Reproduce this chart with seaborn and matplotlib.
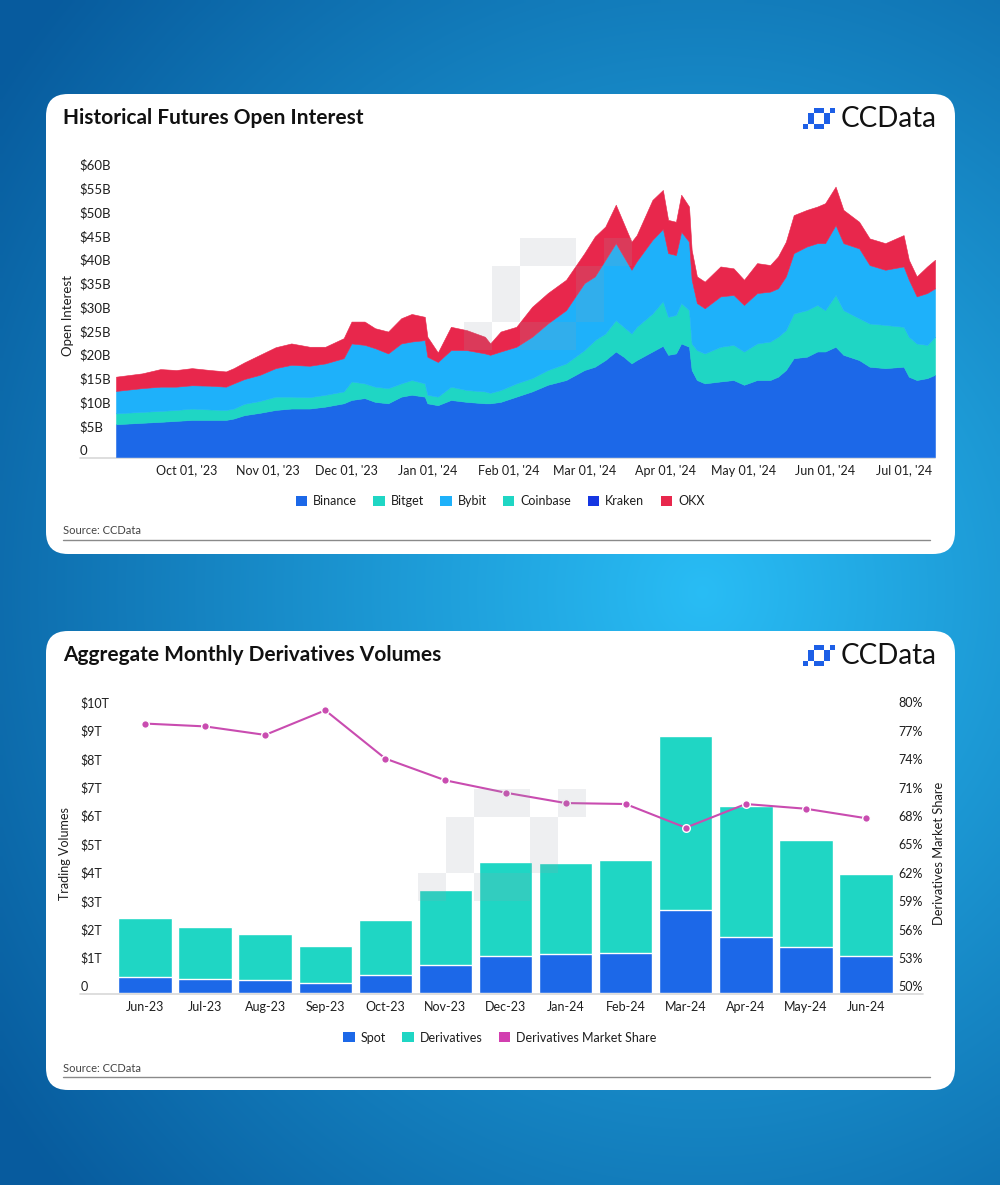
import numpy as np
import pandas as pd
import matplotlib
matplotlib.use("Agg")
import matplotlib.pyplot as plt
import matplotlib.dates as mdates
from matplotlib.patches import FancyBboxPatch, Rectangle, Patch
import seaborn as sns

# ---- top chart: futures open interest, $B per exchange
oi_dates = ["2023-09-04", "2023-09-14", "2023-09-21", "2023-09-27", "2023-10-03", "2023-10-10",
            "2023-10-16", "2023-10-19", "2023-10-23", "2023-10-29", "2023-11-04", "2023-11-10",
            "2023-11-17", "2023-11-23", "2023-11-30", "2023-12-03", "2023-12-08", "2023-12-12",
            "2023-12-17", "2023-12-22", "2023-12-26", "2023-12-31", "2024-01-01", "2024-01-05",
            "2024-01-10", "2024-01-16", "2024-01-23", "2024-01-25", "2024-01-29", "2024-02-04",
            "2024-02-10", "2024-02-16", "2024-02-23", "2024-03-01", "2024-03-05", "2024-03-09",
            "2024-03-13", "2024-03-16", "2024-03-19", "2024-03-21", "2024-03-27", "2024-03-31",
            "2024-04-02", "2024-04-05", "2024-04-07", "2024-04-10", "2024-04-11", "2024-04-13",
            "2024-04-16", "2024-04-22", "2024-04-27", "2024-05-01", "2024-05-06", "2024-05-11",
            "2024-05-14", "2024-05-17", "2024-05-20", "2024-05-25", "2024-05-29", "2024-06-01",
            "2024-06-05", "2024-06-08", "2024-06-14", "2024-06-18", "2024-06-24", "2024-07-01",
            "2024-07-03", "2024-07-06", "2024-07-10", "2024-07-13"]
binance = [6.9, 7.2, 7.4, 7.6, 7.8, 7.8, 7.8, 8.1, 8.8, 9.3, 9.9, 10.2, 10.2, 10.6, 11.3, 12.0,
           12.4, 11.6, 11.3, 12.7, 13.1, 12.7, 11.3, 10.9, 12.0, 11.6, 11.3, 11.3, 11.6, 12.7,
           13.8, 15.2, 16.2, 18.3, 19.0, 20.4, 22.2, 21.1, 19.7, 20.4, 22.2, 23.4, 21.5, 21.8,
           23.9, 23.2, 18.3, 16.2, 15.5, 15.9, 16.2, 15.2, 16.2, 16.2, 16.9, 18.3, 20.8, 21.1,
           22.2, 22.2, 23.2, 21.5, 20.4, 19.0, 18.7, 19.0, 16.9, 16.2, 16.6, 17.3]
bitget = [2.3, 2.3, 2.3, 2.3, 2.4, 2.2, 2.1, 2.1, 2.4, 2.5, 2.8, 2.5, 2.4, 2.5, 2.5, 3.9,
          3.1, 3.2, 3.2, 2.8, 3.1, 2.8, 1.8, 1.8, 2.8, 2.5, 2.5, 2.2, 2.5, 2.8,
          2.8, 3.1, 3.5, 4.2, 5.6, 5.6, 6.6, 6.3, 6.3, 7.0, 8.0, 9.4, 8.0, 8.1,
          8.5, 7.7, 5.6, 6.3, 6.3, 7.3, 7.4, 7.0, 7.7, 8.1, 8.4, 8.4, 9.4, 9.8,
          9.8, 8.7, 10.9, 9.4, 8.8, 9.1, 9.1, 8.4, 8.4, 7.7, 7.0, 8.0]
bybit = [4.7, 5.0, 5.1, 4.9, 4.9, 5.0, 4.9, 5.3, 5.2, 5.5, 6.0, 6.7, 6.6, 6.6, 7.0, 8.0,
         8.1, 8.1, 7.3, 8.4, 8.1, 9.1, 8.0, 7.3, 7.7, 8.4, 8.0, 8.0, 8.1, 7.7,
         8.7, 9.8, 11.2, 14.1, 13.4, 15.5, 16.2, 14.8, 13.4, 13.8, 15.5, 15.2, 13.4, 12.6,
         15.0, 14.4, 13.4, 9.9, 9.5, 10.6, 10.5, 9.8, 10.6, 10.5, 10.2, 11.3, 12.7, 13.4,
         13.0, 14.1, 14.7, 14.1, 14.7, 12.3, 11.6, 12.7, 12.0, 9.9, 10.9, 10.2]
okx = [3.0, 3.1, 3.7, 3.5, 3.6, 3.3, 3.2, 3.2, 3.5, 4.2, 4.4, 4.5, 4.0, 3.5, 4.2, 4.6,
       4.9, 4.2, 4.6, 5.3, 5.8, 4.9, 4.2, 2.0, 4.9, 4.2, 3.5, 2.4, 4.2, 4.2,
       6.3, 6.4, 6.4, 6.3, 8.4, 7.0, 8.1, 7.0, 5.9, 5.5, 8.4, 8.2, 7.0, 7.0,
       7.8, 7.4, 6.3, 5.6, 5.6, 6.3, 5.6, 5.3, 6.3, 5.6, 6.7, 7.3, 8.0, 7.7,
       7.7, 8.4, 8.1, 7.0, 5.6, 5.6, 5.6, 6.6, 4.2, 4.2, 5.6, 6.0]
exchanges = ["Binance", "Bitget", "Bybit", "Coinbase", "Kraken", "OKX"]
oi_ticks = list(range(0, 61, 5))

# ---- bottom chart: monthly volumes ($T) and derivatives share (%)
months = ["Jun-23", "Jul-23", "Aug-23", "Sep-23", "Oct-23", "Nov-23", "Dec-23",
          "Jan-24", "Feb-24", "Mar-24", "Apr-24", "May-24", "Jun-24"]
spot = [0.58, 0.50, 0.47, 0.35, 0.64, 1.00, 1.32, 1.38, 1.41, 2.93, 1.97, 1.64, 1.32]
derivatives = [2.08, 1.85, 1.61, 1.33, 1.94, 2.63, 3.31, 3.22, 3.27, 6.13, 4.61, 3.75, 2.89]
deriv_share = [78.5, 78.2, 77.3, 79.9, 74.8, 72.5, 71.2, 70.1, 70.0, 67.5, 70.0, 69.5, 68.5]
vol_ticks = list(range(0, 11))
share_ticks = list(range(50, 81, 3))

BLUE = "#1c68e8"
TEAL = "#1fd6c4"
SKY = "#1eb1fa"
RED = "#e8274c"
KRAKEN = "#1536e2"
PINK = "#c94cb0"
INK = "#1e1e1e"
W, H = 1000, 1185

sns.set_theme(style="white")
plt.rcParams["font.family"] = ["Lato", "DejaVu Sans"]


def rect(l, t, r, b):
    return [l / W, 1 - b / H, (r - l) / W, (b - t) / H]


fig = plt.figure(figsize=(10, 11.85), dpi=100)

# background + cards, in pixel coordinates
bg = fig.add_axes([0, 0, 1, 1])
bg.set_xlim(0, W)
bg.set_ylim(H, 0)
bg.axis("off")
yy, xx = np.mgrid[0:H:5, 0:W:5]
d = np.clip(np.sqrt(((xx - 700) / 850) ** 2 + ((yy - 590) / 900) ** 2), 0, 1)
light = np.array([0.16, 0.74, 0.96])
dark = np.array([0.03, 0.36, 0.62])
grad = light * (1 - d)[..., None] + dark * d[..., None]
bg.imshow(grad, extent=(0, W, H, 0), aspect="auto", interpolation="bilinear", zorder=0)

for top, bottom in [(94, 554), (631, 1090)]:
    bg.add_patch(FancyBboxPatch((46, top), 909, bottom - top,
                                boxstyle="round,pad=0,rounding_size=22",
                                fc="white", ec="none", zorder=1))


def logo(ax, x0, y0, u, color, alpha=1.0, z=2):
    # CCData mark built from six blocks
    parts = [(0, 3, 1, 1), (1, 1, 1, 2), (2, 0, 2, 1), (4, 1, 1, 2), (5, 0, 1, 1), (2, 3, 2, 1)]
    for px, py, pw, ph in parts:
        ax.add_patch(Rectangle((x0 + px * u, y0 + py * u), pw * u, ph * u,
                               fc=color, ec="none", alpha=alpha, zorder=z))


for ty, title, src_y in [(118, "Historical Futures Open Interest", 531),
                         (655, "Aggregate Monthly Derivatives Volumes", 1068)]:
    bg.text(63, ty, title, fontsize=15, fontweight="bold", color="#111111",
            va="center", ha="left", zorder=3)
    bg.text(841, ty + 1, "CCData", fontsize=20, color="#111111", va="center", ha="left", zorder=3)
    logo(bg, 803, ty - 10, 5.3, "#1d5fe6", z=3)
    bg.text(63, src_y, "Source: CCData", fontsize=8, color="#444444", va="center", zorder=3)
    bg.plot([63, 930], [src_y + 9, src_y + 9], color="#8a8a8a", lw=1, zorder=3)

bg.plot([80, 935], [457.5, 457.5], color="#d8d8d8", lw=1.2, zorder=2)
bg.plot([80, 923], [993.8, 993.8], color="#d8d8d8", lw=1.2, zorder=2)

# ---- top chart
oi = pd.DataFrame({"date": pd.to_datetime(oi_dates), "Binance": binance,
                   "Bitget": bitget, "Bybit": bybit, "OKX": okx})
ax1 = fig.add_axes(rect(116, 160, 935, 457))
ax1.patch.set_alpha(0)
ax1.stackplot(oi["date"], oi["Binance"], oi["Bitget"], oi["Bybit"], oi["OKX"],
              colors=[BLUE, TEAL, SKY, RED], edgecolor="face", linewidth=0.4)
ax1.set_xlim(oi["date"].iloc[0], oi["date"].iloc[-1])
ax1.set_ylim(0, 62.5)
ax1.set_yticks(oi_ticks)
ax1.set_yticklabels(["0"] + [f"${v}B" for v in oi_ticks[1:]])
ax1.xaxis.set_major_locator(mdates.MonthLocator())
ax1.xaxis.set_major_formatter(mdates.DateFormatter("%b %d, '%y"))
ax1.tick_params(axis="y", length=0, pad=26, labelsize=9.5, labelcolor=INK)
ax1.tick_params(axis="x", length=0, pad=5.5, labelsize=9, labelcolor=INK)
plt.setp(ax1.get_yticklabels(), ha="left", va="bottom")
sns.despine(ax=ax1, left=True, bottom=True)
ax1.set_ylabel("Open Interest", fontsize=9.5, color=INK)
ax1.yaxis.set_label_coords(-0.051, 0.478)

oi_colors = [BLUE, TEAL, SKY, TEAL, KRAKEN, RED]
fig.legend([Patch(fc=c, ec="none") for c in oi_colors], exchanges, loc="center",
           bbox_to_anchor=(0.5, 1 - 501 / H), ncol=6, frameon=False, fontsize=9,
           handlelength=0.9, handleheight=0.9, handletextpad=0.5, columnspacing=1.3,
           labelcolor=INK)

# ---- bottom chart
vol = pd.DataFrame({"month": months, "spot": spot, "derivatives": derivatives})
vol["total"] = vol["spot"] + vol["derivatives"]
ax2 = fig.add_axes(rect(115, 700, 896, 993.3))
ax2.patch.set_alpha(0)
sns.barplot(data=vol, x="month", y="total", color=TEAL, saturation=1, width=0.89, ax=ax2)
sns.barplot(data=vol, x="month", y="spot", color=BLUE, saturation=1, width=0.89, ax=ax2)
ax2.set_xlim(-0.5, 12.5)
ax2.set_ylim(0, 10.33)
ax2.set_yticks(vol_ticks)
ax2.set_yticklabels(["0"] + [f"${v}T" for v in vol_ticks[1:]])
ax2.tick_params(axis="y", length=0, pad=25, labelsize=9, labelcolor=INK)
ax2.tick_params(axis="x", length=0, pad=5.5, labelsize=9, labelcolor=INK)
plt.setp(ax2.get_yticklabels(), ha="left", va="bottom")
ax2.set_xlabel("")
ax2.set_ylabel("Trading Volumes", fontsize=9, color=INK)
ax2.yaxis.set_label_coords(-0.056, 0.478)
sns.despine(ax=ax2, left=True, bottom=True)

ax3 = ax2.twinx()
sns.lineplot(x=np.arange(len(months)), y=deriv_share, ax=ax3, color=PINK, lw=1.5,
             marker="o", markersize=5.5, markeredgecolor="white", markeredgewidth=1.0)
ax3.set_ylim(50, 50 + 10.33 * 3)
ax3.set_yticks(share_ticks)
ax3.set_yticklabels([f"{v}%" for v in share_ticks])
ax3.tick_params(axis="y", length=0, pad=1.5, labelsize=9, labelcolor=INK)
plt.setp(ax3.get_yticklabels(), va="bottom")
ax3.set_ylabel("Derivatives Market Share", fontsize=9.3, color=INK, rotation=90)
ax3.yaxis.set_label_coords(1.047, 0.478)
sns.despine(ax=ax3, left=True, bottom=True, right=True)

fig.legend([Patch(fc=c, ec="none") for c in [BLUE, TEAL, "#d23fb0"]],
           ["Spot", "Derivatives", "Derivatives Market Share"], loc="center",
           bbox_to_anchor=(0.5, 1 - 1037.5 / H), ncol=3, frameon=False, fontsize=9,
           handlelength=0.9, handleheight=0.9, handletextpad=0.5, columnspacing=1.3,
           labelcolor=INK)

# faded watermarks over both plots
ov = fig.add_axes([0, 0, 1, 1])
ov.set_xlim(0, W)
ov.set_ylim(H, 0)
ov.axis("off")
ov.patch.set_alpha(0)
logo(ov, 464, 238, 28, "#99a0a8", alpha=0.16)
logo(ov, 418, 789, 28, "#99a0a8", alpha=0.16)

fig.savefig("out.png", dpi=100)
